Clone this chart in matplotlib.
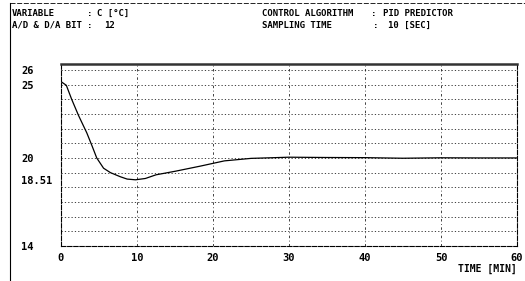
import matplotlib
matplotlib.use("Agg")
import matplotlib.pyplot as plt
from matplotlib.lines import Line2D

# data
time_min = [0, 0.7, 1.4, 2.3, 3.4, 4.1, 4.7, 5.6, 6.5, 7.8, 8.7, 9.8, 11.1, 12.5,
            15.1, 18.4, 21.5, 25, 30, 35, 40, 45, 50, 55, 60]
temp_c = [25.2, 24.95, 24.0, 22.9, 21.7, 20.8, 20.0, 19.3, 19.0, 18.72, 18.56, 18.51,
          18.6, 18.85, 19.1, 19.45, 19.8, 19.97, 20.05, 20.03, 20.02, 19.98, 20.01, 20.0, 20.0]
x_ticks = [0, 10, 20, 30, 40, 50, 60]
x_ticklabels = ["0", "10", "20", "30", "40", "50", "60"]
y_ticks = [14, 18.51, 20, 25, 26]
y_ticklabels = ["14", "18.51", "20", "25", "26"]
y_grid = list(range(14, 27))
x_grid = [10, 20, 30, 40, 50]

W, H = 525, 281
fig = plt.figure(figsize=(W / 100, H / 100), dpi=100)
ax = fig.add_axes([61 / W, 1 - 246 / H, (517 - 61) / W, (246 - 64) / H])

mono = "DejaVu Sans Mono"

for g in y_grid[1:]:
    ax.axhline(g, color="#222222", lw=0.6, ls=(0, (1.5, 2.5)), zorder=1)
for g in x_grid:
    ax.axvline(g, color="#222222", lw=0.6, ls=(0, (3, 3, 1, 3)), zorder=1)

ax.plot(time_min, temp_c, color="black", lw=0.9, zorder=3)

ax.set_xlim(0, 60)
ax.set_ylim(14, 26.4)
ax.set_xticks(x_ticks)
ax.set_xticklabels(x_ticklabels, fontfamily=mono, fontweight="bold", fontsize=7.5)
ax.set_yticks(y_ticks)
ax.set_yticklabels(y_ticklabels, fontfamily=mono, fontweight="bold", fontsize=7.5, ha="left")
ax.tick_params(axis="y", length=0, pad=28.5)
ax.tick_params(axis="x", length=0, pad=5)

for side in ["left", "right", "bottom"]:
    ax.spines[side].set_linewidth(0.8)
    ax.spines[side].set_linestyle((0, (4, 1.5)))
ax.spines["top"].set_linewidth(1.8)
ax.spines["top"].set_color("#333333")

ax.text(1.0, -0.095, "TIME [MIN]", transform=ax.transAxes, ha="right", va="top",
        fontfamily=mono, fontweight="bold", fontsize=7)

def put(x, y, s):
    fig.text(x / W, 1 - y / H, s, ha="left", va="center", fontfamily=mono,
             fontweight="bold", fontsize=6.5)

put(12, 13, "VARIABLE")
put(87, 13, ":")
put(97, 13, "C [°C]")
put(12, 25, "A/D & D/A BIT")
put(87, 25, ":")
put(104, 25, "12")
put(262, 13, "CONTROL ALGORITHM")
put(371, 13, ":")
put(383, 13, "PID PREDICTOR")
put(262, 25, "SAMPLING TIME")
put(373, 25, ":")
put(388, 25, "10 [SEC]")

fig.add_artist(Line2D([10 / W, 10 / W], [0, 1 - 3 / H], color="black", lw=0.8,
                      transform=fig.transFigure))
fig.add_artist(Line2D([10 / W, 1], [1 - 3 / H, 1 - 3 / H], color="black", lw=0.6,
                      ls=(0, (6, 2)), transform=fig.transFigure))

fig.savefig("out.png", dpi=100)
